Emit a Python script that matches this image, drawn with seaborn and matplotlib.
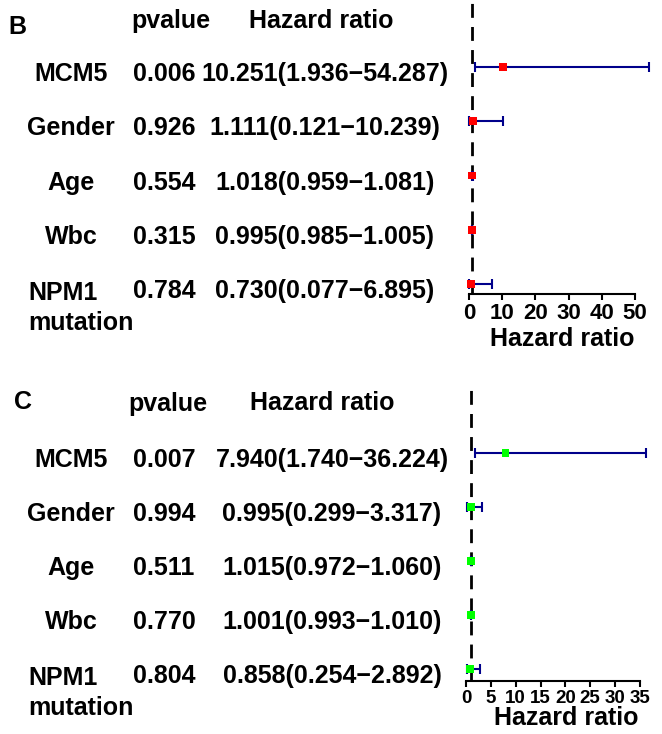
import numpy as np
import pandas as pd
import matplotlib
matplotlib.use("Agg")
import matplotlib.pyplot as plt
import matplotlib.transforms as mtransforms
import seaborn as sns

# ---------------- data ----------------
variables = ["MCM5", "Gender", "Age", "Wbc", "NPM1\nmutation"]

b_pvalue = [0.006, 0.926, 0.554, 0.315, 0.784]
b_hr = [10.251, 1.111, 1.018, 0.995, 0.730]
b_low = [1.936, 0.121, 0.959, 0.985, 0.077]
b_high = [54.287, 10.239, 1.081, 1.005, 6.895]

c_pvalue = [0.007, 0.994, 0.511, 0.770, 0.804]
c_hr = [7.940, 0.995, 1.015, 1.001, 0.858]
c_low = [1.740, 0.299, 0.972, 0.993, 0.254]
c_high = [36.224, 3.317, 1.060, 1.010, 2.892]

b_ticks = [0, 10, 20, 30, 40, 50]
c_ticks = [0, 5, 10, 15, 20, 25, 30, 35]

# ---------------- style ----------------
sns.set_style("white")
plt.rcParams["font.family"] = ["Liberation Sans", "DejaVu Sans"]
plt.rcParams["font.weight"] = "bold"
plt.rcParams["axes.labelweight"] = "bold"
plt.rcParams["text.color"] = "black"
plt.rcParams["axes.labelcolor"] = "black"
plt.rcParams["xtick.color"] = "black"
plt.rcParams["xtick.labelcolor"] = "black"

W, H = 662, 734
fig = plt.figure(figsize=(W / 100, H / 100), dpi=100)


def fx(px):
    return px / W


def fy(py):
    return 1 - py / H


FS = 18


def forest(ax, pvals, hr, low, high, ticks, color, ylim, hr_x, label_coords, tick_fs):
    n = len(variables)
    df = pd.DataFrame({
        "var": variables,
        "p": pvals,
        "hr": hr,
        "low": low,
        "high": high,
        "row": np.arange(n, 0, -1),
    })
    ax.set_xlim(0, max(high))
    ax.set_ylim(*ylim)
    ax.axvline(1, color="black", lw=2.0, ls=(0, (5, 3.3)), zorder=1)
    eb = ax.errorbar(df["hr"], df["row"],
                     xerr=[df["hr"] - df["low"], df["high"] - df["hr"]],
                     fmt="none", ecolor="#00008B", elinewidth=1.5,
                     capsize=3.6, capthick=1.5, zorder=2)
    for art in list(eb[1]) + list(eb[2]):
        art.set_clip_on(False)
    sns.scatterplot(data=df, x="hr", y="row", marker="s", color=color,
                    s=32, edgecolor="none", linewidth=0, ax=ax,
                    legend=False, zorder=3, clip_on=False)
    for s in ["top", "right", "left"]:
        ax.spines[s].set_visible(False)
    ax.spines["bottom"].set_bounds(ticks[0], ticks[-1])
    ax.spines["bottom"].set_linewidth(1.5)
    ax.spines["bottom"].set_color("black")
    ax.set_xticks(ticks)
    ax.set_xticklabels([str(t) for t in ticks])
    ax.set_yticks([])
    ax.tick_params(axis="x", direction="out", length=4.5, width=1.5,
                   labelsize=tick_fs, pad=2, color="black", bottom=True)
    for lab in ax.get_xticklabels():
        lab.set_fontweight("bold")
    ax.set_ylabel("")
    ax.set_xlabel("Hazard ratio", fontsize=18, fontweight="bold", color="black")
    ax.xaxis.set_label_coords(*label_coords)
    ax.patch.set_alpha(0)

    trans = mtransforms.blended_transform_factory(fig.transFigure, ax.transData)
    dy = -0.13
    for _, r in df.iterrows():
        y = r["row"] + dy
        if "\n" in r["var"]:
            fig.text(fx(28), r["row"] + 0.055, r["var"], transform=trans,
                     ha="left", va="top", fontsize=FS, multialignment="left",
                     linespacing=1.3)
        else:
            fig.text(fx(71), y, r["var"], transform=trans,
                     ha="center", va="center", fontsize=FS)
        fig.text(fx(164), y, f"{r['p']:.3f}", transform=trans,
                 ha="center", va="center", fontsize=FS)
        fig.text(fx(hr_x), y,
                 f"{r['hr']:.3f}({r['low']:.3f}\u2212{r['high']:.3f})",
                 transform=trans, ha="center", va="center", fontsize=FS)


# panel B
axB = fig.add_axes([fx(469), fy(294), fx(649.3) - fx(469), fy(0) - fy(294)])
forest(axB, b_pvalue, b_hr, b_low, b_high, b_ticks, "#FF0000",
       (0.816, 6.235), 325, (0.516, -0.112), 16)

# panel C
axC = fig.add_axes([fx(466), fy(681), fx(646) - fx(466), fy(388) - fy(681)])
forest(axC, c_pvalue, c_hr, c_low, c_high, c_ticks, "#00FF00",
       (0.778, 6.204), 332, (0.556, -0.085), 13.5)

# headers
fig.text(fx(17), fy(27), "B", ha="center", va="center", fontsize=18)
fig.text(fx(171), fy(21), "pvalue", ha="center", va="center", fontsize=18)
fig.text(fx(321), fy(21), "Hazard ratio", ha="center", va="center", fontsize=18)
fig.text(fx(23), fy(402), "C", ha="center", va="center", fontsize=18)
fig.text(fx(168), fy(404), "pvalue", ha="center", va="center", fontsize=18)
fig.text(fx(322), fy(403), "Hazard ratio", ha="center", va="center", fontsize=18)

fig.savefig("out.png", dpi=100)
